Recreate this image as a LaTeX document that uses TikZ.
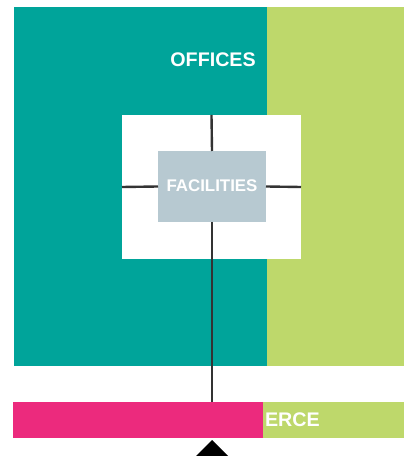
\documentclass[tikz,border=0pt]{standalone}
\usepackage{fontspec}
\setmainfont{Liberation Sans}
\usepackage{tikz}
\usetikzlibrary{calc,positioning}
\definecolor{teal1}{HTML}{00A49A}
\definecolor{lime1}{HTML}{BED86B}
\definecolor{pink1}{HTML}{EC2A7D}
\definecolor{grey1}{HTML}{B7C9D1}
\definecolor{line1}{HTML}{333333}

\begin{document}
\begin{tikzpicture}[
	zone/.style={rectangle,inner sep=0pt,outer sep=0pt,anchor=south west},
	label/.style={text=white,font=\bfseries\fontsize{14}{16}\selectfont},
	link/.style={line1,line width=1.7pt}
]
			\useasboundingbox (0,0) rectangle (10.1,11.4);
			% Offices block
			\node[zone,fill=teal1,minimum width=6.325cm,minimum height=8.975cm] (offices) at (0.35,2.25) {};
			\node[zone,fill=lime1,minimum width=3.425cm,minimum height=8.975cm] (side) at (6.675,2.25) {};
			\node[label,anchor=east,inner sep=0pt] (offtxt) at (6.4,9.9) {OFFICES};
			% Hub and facilities
			\node[zone,fill=white,minimum width=4.475cm,minimum height=3.6cm] (hub) at (3.05,4.925) {};
			\node[zone,fill=grey1,minimum width=2.7cm,minimum height=1.775cm] (fac) at (3.95,5.85) {};
			\node[text=white,font=\bfseries\fontsize{12}{14}\selectfont] (factxt) at (5.3,6.75) {FACILITIES};
			% Commerce bar
			\node[zone,fill=pink1,minimum width=6.25cm,minimum height=0.9cm] (commerce) at (0.325,0.45) {};
			\node[zone,fill=lime1,minimum width=3.525cm,minimum height=0.9cm] (commside) at (6.575,0.45) {};
			\node[label,anchor=west,inner sep=0pt] (comtxt) at (6.62,0.9) {ERCE};
			% Links
			\draw[link] (fac.north) -- (hub.north);
			\draw[link] (fac.west) -- (hub.west);
			\draw[link] (fac.east) -- (hub.east);
			\draw[link] (fac.south) -- (fac.south |- commerce.north);
			% Marker
			\fill[black] (5.3,0.4) -- (4.9,0) -- (5.7,0) -- cycle;
		\end{tikzpicture}
\end{document}
